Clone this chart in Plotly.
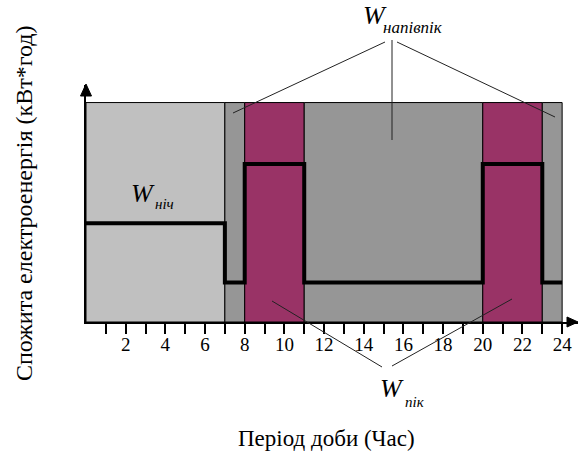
import plotly.graph_objects as go

# ---- data ----
zone_start = [0, 7, 8, 11, 20, 23]
zone_end = [7, 8, 11, 20, 23, 24]
zone_kind = ["night", "half", "peak", "half", "peak", "half"]
zone_top = 10

hours = [0, 7, 8, 11, 20, 23, 24]
load = [4.5, 1.8, 7.2, 1.8, 7.2, 1.8, 1.8]

tick_hours = list(range(1, 25))
tick_labels = [str(h) if h % 2 == 0 else "" for h in tick_hours]

x_title = "Період доби (Час)"
y_title = "Спожита електроенергія (кВт*год)"

# ---- styling ----
COLORS = {"night": "#c0c0c0", "half": "#969696", "peak": "#993366"}
FONT = "Liberation Serif, Tinos, Noto Serif, FreeSerif, Nimbus Roman, Times New Roman, Times, serif"

WIDTH, HEIGHT = 584, 457
L, R, T, B = 86, 578, 85, 322
PW, PH = R - L, B - T


def px(x):
    return (x - L) / PW


def py(y):
    return (B - y) / PH


fig = go.Figure()

fig.add_trace(go.Scatter(
    x=hours, y=load, mode="lines", line=dict(color="black", width=4, shape="hv"),
    hoverinfo="skip", showlegend=False,
))

shapes = []
for s, e, k in zip(zone_start, zone_end, zone_kind):
    shapes.append(dict(type="rect", xref="x", yref="y", x0=s, x1=e, y0=0, y1=zone_top,
                       fillcolor=COLORS[k], line=dict(color="black", width=1), layer="below"))

# arrowheads
shapes.append(dict(type="path", xref="paper", yref="paper",
                   path=f"M {px(578)},{py(322)} L {px(567)},{py(317)} L {px(567)},{py(327)} Z",
                   fillcolor="black", line=dict(color="black", width=1), layer="above"))
shapes.append(dict(type="path", xref="paper", yref="paper",
                   path=f"M {px(86)},{py(84)} L {px(80.5)},{py(96)} L {px(91.5)},{py(96)} Z",
                   fillcolor="black", line=dict(color="black", width=1), layer="above"))

# leader lines
leaders = [
    ((385, 42), (233, 113)),
    ((392, 40), (392, 140)),
    ((397, 42), (555, 117)),
    ((272, 301), (382, 367)),
    ((512, 299), (392, 366)),
]
for (x0, y0), (x1, y1) in leaders:
    shapes.append(dict(type="line", xref="paper", yref="paper",
                       x0=px(x0), y0=py(y0), x1=px(x1), y1=py(y1),
                       line=dict(color="#222222", width=1), layer="above"))

annotations = []


def label(text, x, y, size, italic=True, angle=0, family=FONT):
    t = f"<i>{text}</i>" if italic else text
    annotations.append(dict(text=t, xref="paper", yref="paper", x=px(x), y=py(y),
                            xanchor="center", yanchor="middle", showarrow=False,
                            textangle=angle,
                            font=dict(family=family, size=size, color="black")))


label("W", 143, 193, 26)
label("ніч", 164, 204, 15)
label("W", 375, 15, 26)
label("напівпік", 413, 27, 17)
label("W", 392, 388, 26)
label("пік", 415, 402, 15)

label(x_title, 326, 438, 23, italic=False)
label(y_title, 24, 204, 24, italic=False, angle=-90)

fig.update_layout(
    width=WIDTH, height=HEIGHT,
    margin=dict(l=L, r=WIDTH - R, t=T, b=HEIGHT - B, pad=0),
    paper_bgcolor="white", plot_bgcolor="white",
    font=dict(family=FONT),
    showlegend=False,
    shapes=shapes, annotations=annotations,
    xaxis=dict(range=[0, 24.8], tickmode="array", tickvals=tick_hours, ticktext=tick_labels,
               ticks="outside", ticklen=10, tickwidth=1.5, tickcolor="black",
               showline=True, linecolor="black", linewidth=2, showgrid=False, zeroline=False,
               ticklabelstandoff=-6,
               tickfont=dict(family=FONT, size=19, color="black"), fixedrange=True),
    yaxis=dict(range=[0, 10.8], showticklabels=False, ticks="",
               showline=True, linecolor="black", linewidth=2, showgrid=False, zeroline=False,
               fixedrange=True),
)

fig.write_html("out.html", config={"displayModeBar": False},
               post_script="document.body.style.margin='0';")
